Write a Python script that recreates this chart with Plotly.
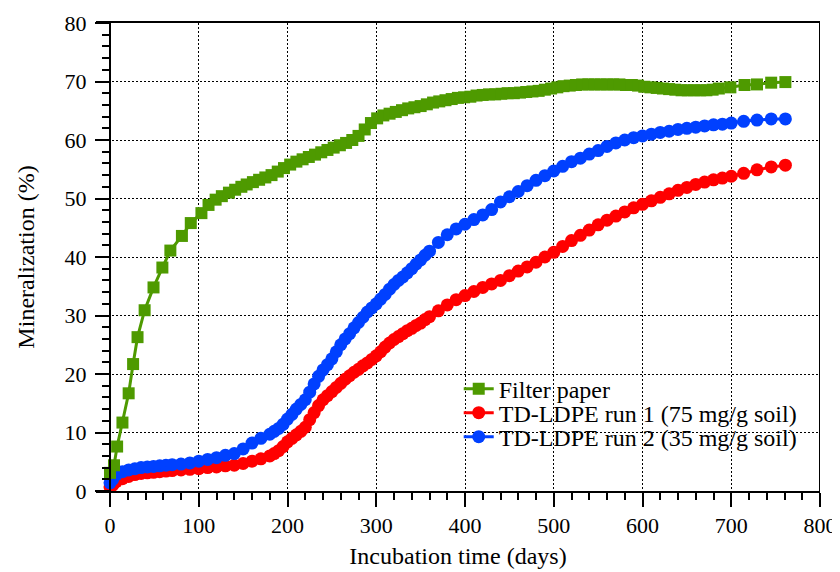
import plotly.graph_objects as go

# ---- data ----
t_run = [0, 3, 7, 14, 21, 28, 35, 42, 49, 56, 63, 70, 80, 90, 100, 110, 120, 130, 140, 150,
         160, 170, 180, 185, 190, 195, 200, 205, 210, 215, 220, 225, 230, 235, 240, 245, 250,
         255, 260, 265, 270, 275, 280, 285, 290, 295, 300, 305, 310, 315, 320, 325, 330, 335,
         340, 345, 350, 355, 360, 370, 380, 390, 400, 410, 420, 430, 440, 450, 460, 470, 480,
         490, 500, 510, 520, 530, 540, 550, 560, 570, 580, 590, 600, 610, 620, 630, 640, 650,
         660, 670, 680, 690, 700, 714, 729, 745, 761]

run1 = [0.7, 1.0, 1.6, 2.1, 2.5, 2.8, 3.0, 3.1, 3.2, 3.3, 3.4, 3.5, 3.6, 3.7, 3.8, 4.0, 4.1,
        4.3, 4.4, 4.7, 5.1, 5.5, 6.0, 6.4, 6.9, 7.6, 8.4, 9.0, 9.6, 10.2, 10.9, 12.2, 13.4,
        14.6, 15.6, 16.3, 17.0, 17.7, 18.4, 19.1, 19.7, 20.3, 20.8, 21.4, 21.9, 22.5, 23.1,
        23.8, 24.6, 25.3, 25.9, 26.4, 26.9, 27.4, 27.8, 28.3, 28.7, 29.3, 29.8, 30.8, 31.8,
        32.7, 33.4, 34.1, 34.8, 35.4, 36.0, 36.8, 37.6, 38.3, 39.1, 40.0, 40.8, 41.8, 42.8,
        43.7, 44.6, 45.5, 46.3, 47.0, 47.7, 48.4, 49.0, 49.6, 50.2, 50.8, 51.4, 51.9, 52.4,
        52.8, 53.2, 53.5, 53.8, 54.3, 54.9, 55.4, 55.7]

run2 = [1.4, 2.0, 2.8, 3.3, 3.6, 3.8, 4.0, 4.1, 4.2, 4.3, 4.4, 4.5, 4.6, 4.8, 5.1, 5.4, 5.7,
        6.1, 6.4, 7.2, 8.2, 9.0, 9.7, 10.2, 10.7, 11.4, 12.3, 13.1, 14.0, 14.8, 15.6, 16.9,
        18.3, 19.6, 20.7, 21.6, 22.6, 23.8, 25.0, 26.0, 26.9, 27.9, 28.8, 29.7, 30.6, 31.3,
        32.0, 32.8, 33.6, 34.5, 35.3, 36.0, 36.6, 37.3, 38.0, 38.8, 39.5, 40.3, 41.0, 42.5,
        43.8, 44.8, 45.6, 46.4, 47.2, 48.1, 49.4, 50.3, 51.2, 52.2, 53.1, 53.9, 54.7, 55.5,
        56.3, 56.9, 57.6, 58.2, 58.9, 59.5, 60.0, 60.4, 60.7, 61.0, 61.3, 61.5, 61.8, 62.0,
        62.2, 62.4, 62.6, 62.7, 62.9, 63.2, 63.4, 63.6, 63.6]

t_paper = [0, 4.5, 8, 14, 21, 26, 31, 39, 49, 59, 68, 81, 91, 103, 111, 119, 126, 134, 141,
           148, 154, 161, 168, 175, 182, 189, 196, 203, 210, 217, 224, 231, 238, 245, 252, 259,
           266, 273, 280, 287, 294, 301, 308, 315, 322, 329, 336, 343, 350, 357, 364, 371, 378,
           385, 392, 399, 406, 413, 420, 427, 434, 441, 448, 455, 462, 469, 476, 483, 490, 497,
           504, 511, 518, 525, 532, 539, 546, 553, 560, 567, 574, 581, 588, 595, 602, 609, 616,
           623, 630, 637, 644, 651, 658, 665, 672, 679, 686, 699, 715, 729, 745, 761]

paper = [3.1, 4.4, 7.6, 11.7, 16.7, 21.7, 26.3, 30.9, 34.8, 38.2, 41.1, 43.6, 45.8, 47.5, 48.9,
         49.8, 50.4, 51.0, 51.5, 52.0, 52.4, 52.8, 53.2, 53.6, 54.0, 54.6, 55.2, 55.8, 56.3,
         56.7, 57.1, 57.5, 57.9, 58.3, 58.7, 59.1, 59.5, 60.0, 60.7, 61.8, 62.9, 63.7, 64.2,
         64.5, 64.8, 65.1, 65.4, 65.6, 65.8, 66.1, 66.4, 66.6, 66.8, 67.0, 67.2, 67.3, 67.4,
         67.6, 67.7, 67.8, 67.8, 67.9, 68.0, 68.0, 68.1, 68.2, 68.3, 68.4, 68.6, 68.8, 69.0,
         69.2, 69.3, 69.4, 69.5, 69.5, 69.5, 69.5, 69.5, 69.5, 69.5, 69.4, 69.4, 69.3, 69.1,
         69.0, 68.9, 68.8, 68.7, 68.6, 68.5, 68.5, 68.5, 68.5, 68.5, 68.6, 68.8, 69.0, 69.4,
         69.5, 69.8, 69.9]

names = ["Filter paper", "TD-LDPE run 1 (75 mg/g soil)", "TD-LDPE run 2 (35 mg/g soil)"]
x_ticks = [0, 100, 200, 300, 400, 500, 600, 700, 800]
y_ticks = [0, 10, 20, 30, 40, 50, 60, 70, 80]

GREEN = "#4E9A00"
RED = "#FF0000"
BLUE = "#0040FF"
FONT = "'Liberation Serif', 'Times New Roman', Times, serif"

fig = go.Figure()
fig.add_trace(go.Scatter(x=t_run, y=run1, name=names[1], mode="lines+markers", legend="legend2",
                         line=dict(color=RED, width=3),
                         marker=dict(symbol="circle", size=13, color=RED)))
fig.add_trace(go.Scatter(x=t_run, y=run2, name=names[2], mode="lines+markers", legend="legend3",
                         line=dict(color=BLUE, width=3),
                         marker=dict(symbol="circle", size=13, color=BLUE)))
fig.add_trace(go.Scatter(x=t_paper, y=paper, name=names[0], mode="lines+markers", legend="legend",
                         line=dict(color=GREEN, width=3),
                         marker=dict(symbol="square", size=12, color=GREEN)))

x_min = -15.8
pos_y = (0 - x_min) / (800 - x_min)

leg_common = dict(x=0.501, xanchor="left", yanchor="middle", bgcolor="rgba(0,0,0,0)",
                  font=dict(family=FONT, size=24), itemwidth=30)

fig.update_layout(
    width=840, height=572,
    margin=dict(l=88, r=28, t=15, b=89),
    paper_bgcolor="white", plot_bgcolor="white",
    font=dict(family=FONT, size=22, color="black"),
    showlegend=True,
    legend=dict(y=0.2178, **leg_common),
    legend2=dict(y=0.1666, **leg_common),
    legend3=dict(y=0.1153, **leg_common),
    xaxis=dict(range=[x_min, 800], tickvals=x_ticks, ticks="outside", ticklen=14, tickwidth=2,
               tickcolor="black", showline=True, linecolor="black", linewidth=2, mirror=True,
               showgrid=True, gridcolor="black", gridwidth=1, griddash="2px,2px",
               zeroline=False, automargin=False,
               minor=dict(dtick=20, ticks="outside", ticklen=7, tickwidth=2, tickcolor="black",
                          showgrid=False),
               title=dict(text="Incubation time (days)", font=dict(family=FONT, size=24),
                          standoff=10),
               tickfont=dict(family=FONT, size=22)),
    yaxis=dict(range=[0, 80], tickvals=y_ticks, anchor="free", position=pos_y,
               ticks="outside", ticklen=14, tickwidth=2, tickcolor="black",
               showline=True, linecolor="black", linewidth=2,
               showgrid=True, gridcolor="black", gridwidth=1, griddash="2px,2px",
               zeroline=False, automargin=False, ticklabelstandoff=4,
               minor=dict(dtick=2, ticks="outside", ticklen=7, tickwidth=2, tickcolor="black",
                          showgrid=False),
               title=dict(text="Mineralization (%)", font=dict(family=FONT, size=24),
                          standoff=22),
               tickfont=dict(family=FONT, size=22)),
)

# right border of frame
fig.add_shape(type="line", xref="x", yref="paper", x0=800, x1=800, y0=0, y1=1,
              line=dict(color="black", width=2))

fig.write_html("out.html")
